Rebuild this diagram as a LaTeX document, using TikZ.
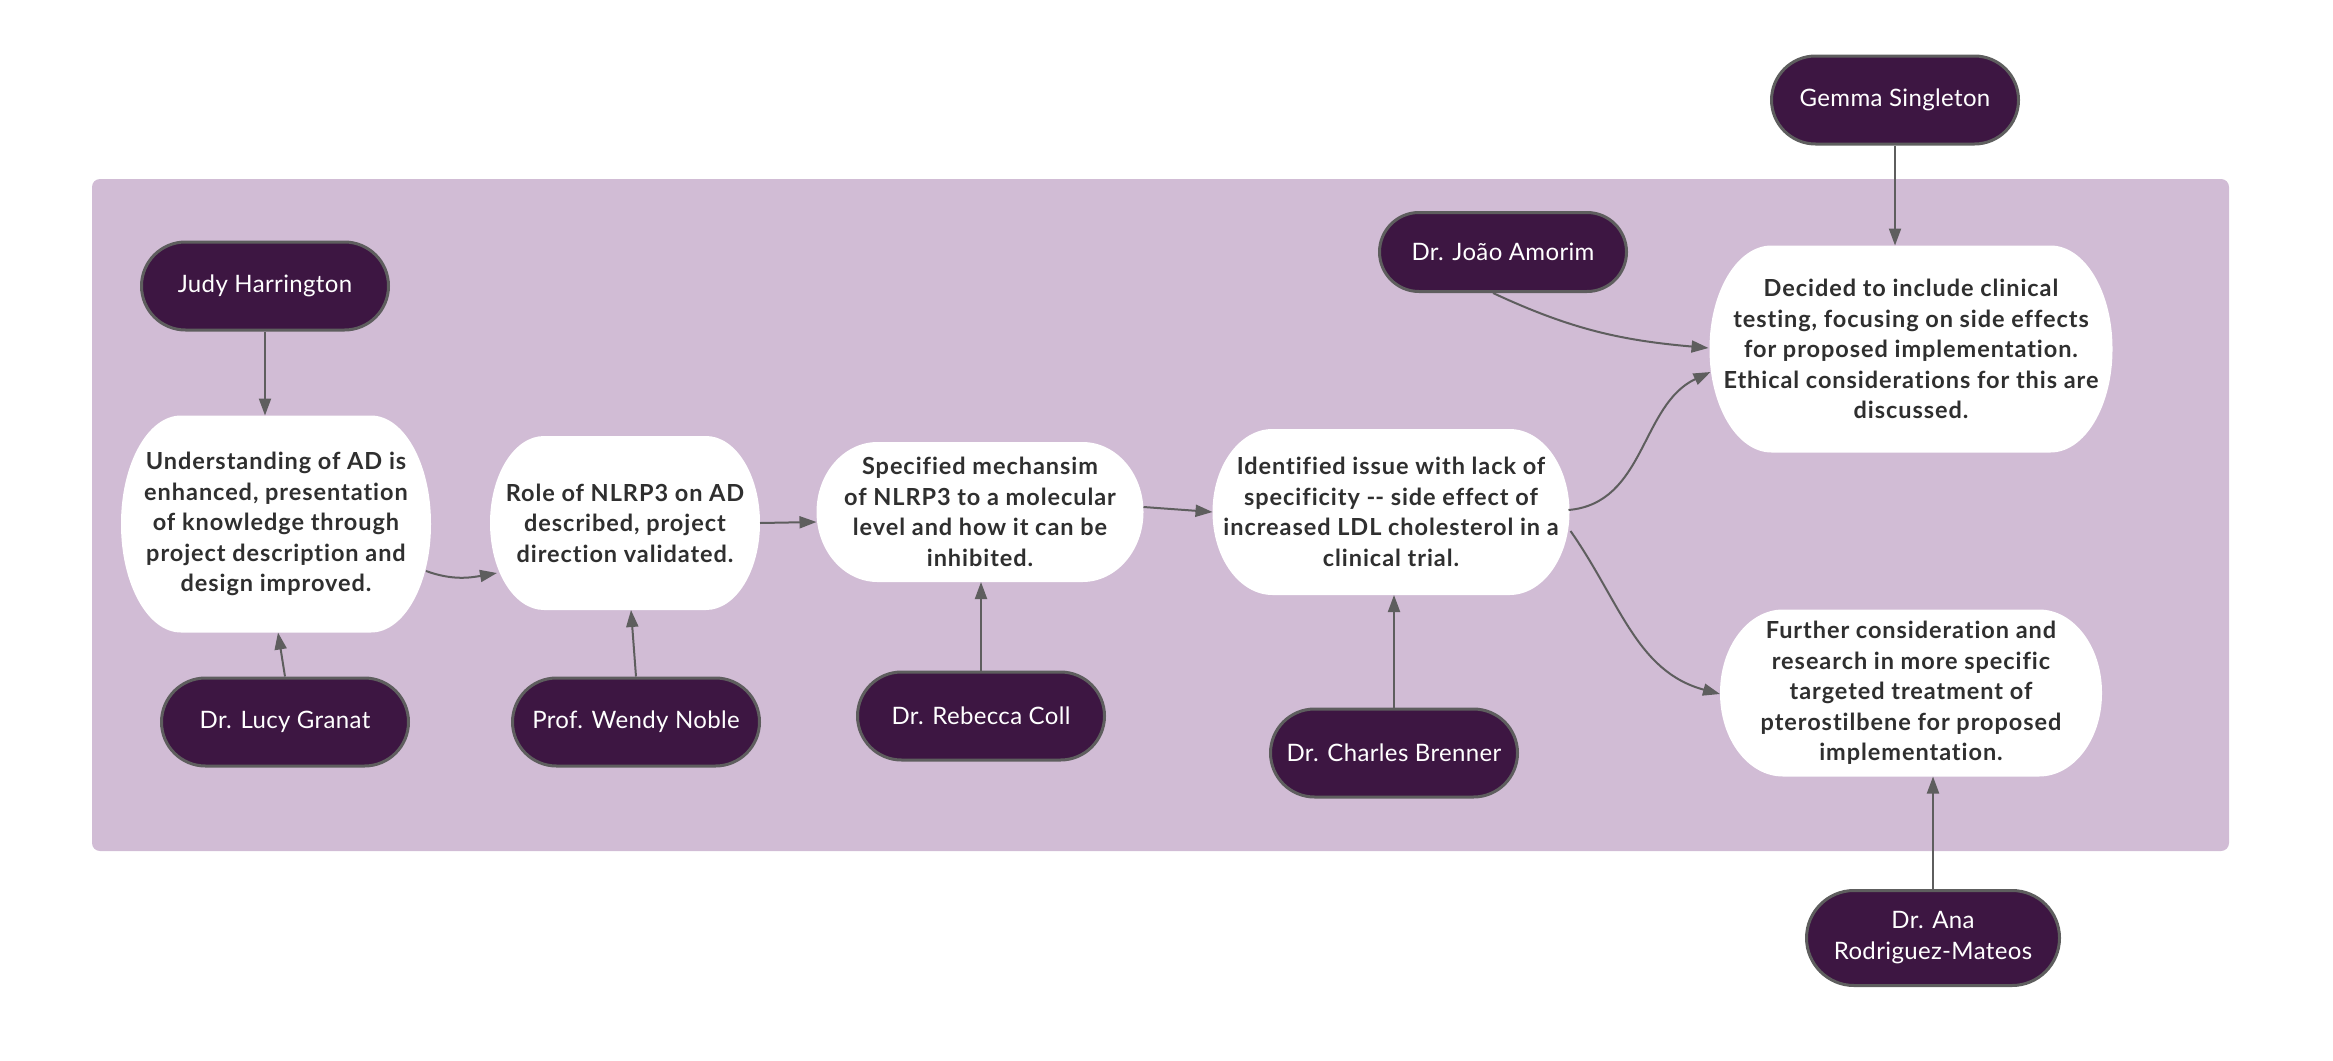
\documentclass[tikz,border=0pt]{standalone}
\usepackage{fontspec}
\setmainfont{Lato}
\newfontfamily\ideafont[LetterSpace=4,Ligatures={NoCommon}]{Lato}
\newfontfamily\personfont[LetterSpace=1.5,Ligatures={NoCommon}]{Lato}
\usetikzlibrary{arrows.meta,shapes.misc}
\definecolor{lav}{HTML}{D1BCD5}
\definecolor{plum}{HTML}{3D1642}
\definecolor{edgegrey}{HTML}{5E5E5E}
\definecolor{txt}{HTML}{2F2F2F}
\pgfdeclarelayer{back}
\pgfdeclarelayer{blobs}
\pgfsetlayers{back,blobs,main}
\newcommand\blobfill[3]{%
  \fill[white] ([xshift=#2pt]#1.north west) -- ([xshift=-#2pt]#1.north east)
    arc[start angle=90,end angle=0,x radius=#2pt,y radius=#3pt]
    -- ([yshift=#3pt]#1.south east)
    arc[start angle=0,end angle=-90,x radius=#2pt,y radius=#3pt]
    -- ([xshift=#2pt]#1.south west)
    arc[start angle=270,end angle=180,x radius=#2pt,y radius=#3pt]
    -- ([yshift=-#3pt]#1.north west)
    arc[start angle=180,end angle=90,x radius=#2pt,y radius=#3pt] -- cycle;}
\begin{document}
\begin{tikzpicture}[x=1pt,y=1pt,
  person/.style={rounded rectangle, fill=plum, draw=edgegrey, line width=3pt,
    text=white, minimum width=247pt, minimum height=88pt, inner sep=0pt,
    align=center, font=\personfont\fontsize{24}{31}\selectfont},
  idea/.style={rectangle, inner sep=0pt, outer sep=0pt, align=center, text=txt,
    font=\ideafont\bfseries\fontsize{23.5}{30.5}\selectfont},
  link/.style={draw=edgegrey, line width=2pt, -{Triangle[length=17pt,width=12pt]}}]
\useasboundingbox (0,0) rectangle (2333,-1060);
\begin{pgfonlayer}{back}
\fill[lav, rounded corners=8pt] (92,-179) rectangle (2229,-851);
\end{pgfonlayer}

% idea nodes
\node[idea, minimum width=310pt, minimum height=217pt] (und) at (276,-524)
  {Understanding of AD is\\enhanced, presentation\\of knowledge through\\project description and\\design improved.};
\node[idea, minimum width=270pt, minimum height=174pt] (role) at (625,-523)
  {Role of NLRP3 on AD\\described, project\\direction validated.};
\node[idea, minimum width=327pt, minimum height=140pt] (spec) at (980,-512)
  {Specified mechansim\\of NLRP3 to a molecular\\level and how it can be\\inhibited.};
\node[idea, minimum width=357pt, minimum height=166pt] (ident) at (1391,-512)
  {Identified issue with lack of\\specificity \mbox{-}\mbox{-} side effect of\\increased LDL cholesterol in a\\clinical trial.};
\node[idea, minimum width=403pt, minimum height=207pt] (dec) at (1911,-349)
  {Decided to include clinical\\testing, focusing on side effects\\for proposed implementation.\\Ethical considerations for this are\\discussed.};
\node[idea, minimum width=382pt, minimum height=167pt] (fur) at (1911,-693)
  {Further consideration and\\research in more specific\\targeted treatment of\\pterostilbene for proposed\\implementation.};

\begin{pgfonlayer}{blobs}
\blobfill{und}{60}{108}
\blobfill{role}{54}{87}
\blobfill{spec}{61}{70}
\blobfill{ident}{60}{83}
\blobfill{dec}{62}{103}
\blobfill{fur}{63}{83}
\end{pgfonlayer}

% people
\node[person, minimum height=88pt] (gemma) at (1895,-100) {Gemma Singleton};
\node[person, minimum height=79pt] (joao) at (1503,-252) {Dr. João Amorim};
\node[person] (judy) at (265,-286) {Judy Harrington};
\node[person] (lucy) at (285,-722) {Dr. Lucy Granat};
\node[person] (wendy) at (636,-722) {Prof. Wendy Noble};
\node[person] (rebecca) at (981,-716) {Dr. Rebecca Coll};
\node[person] (charles) at (1394,-753) {Dr. Charles Brenner};
\node[person, minimum width=253pt, minimum height=95pt] (ana) at (1933,-938) {Dr. Ana\\Rodriguez-Mateos};

% connectors
\draw[link] (judy.south) -- (judy.south |- und.north);
\draw[link] (lucy.north) -- ([xshift=2pt]und.south);
\draw[link] ([xshift=-5pt,yshift=-47pt]und.east) to[out=-20,in=190] ([xshift=7pt,yshift=-50pt]role.west);
\draw[link] (wendy.north) -- ([xshift=6pt]role.south);
\draw[link] (role.east) -- ([yshift=-10pt]spec.west);
\draw[link] (rebecca.north) -- (rebecca.north |- spec.south);
\draw[link] ([yshift=5pt]spec.east) -- (ident.west);
\draw[link] (charles.north) -- (charles.north |- ident.south);
\draw[link] ([xshift=-1pt,yshift=2pt]ident.east) to[out=5,in=205] ([xshift=1pt,yshift=-23pt]dec.west);
\draw[link] ([xshift=1pt,yshift=-19pt]ident.east) to[out=-55,in=165] ([yshift=-1pt]fur.west);
\draw[link] ([xshift=-10pt]joao.south) to[out=-25,in=175] ([xshift=-1pt,yshift=1pt]dec.west);
\draw[link] (gemma.south) -- (gemma.south |- dec.north);
\draw[link] (ana.north) -- (ana.north |- fur.south);
\end{tikzpicture}
\end{document}
